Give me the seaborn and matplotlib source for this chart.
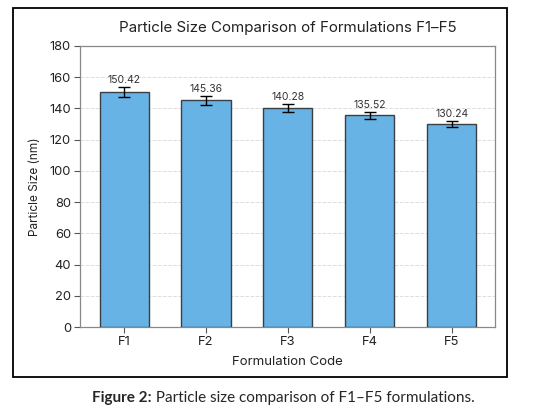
import numpy as np
import pandas as pd
import matplotlib
matplotlib.use("Agg")
import matplotlib.pyplot as plt
import seaborn as sns
from matplotlib.patches import Rectangle

# dati
codes = ["F1", "F2", "F3", "F4", "F5"]
sizes = [150.42, 145.36, 140.28, 135.52, 130.24]
errors = [3.2, 2.9, 2.6, 2.2, 1.9]
y_ticks = [0, 20, 40, 60, 80, 100, 120, 140, 160, 180]

df = pd.DataFrame({"code": codes, "size": sizes, "err": errors})

sns.set_style("white")
plt.rcParams["font.family"] = ["Inter", "DejaVu Sans"]

W, H = 536, 416
fig = plt.figure(figsize=(W / 100, H / 100), dpi=100)

# cornice nera attorno alla figura
fig.patches.append(Rectangle((13 / W, 1 - 377 / H), (507 - 13) / W, (377 - 8) / H,
                             transform=fig.transFigure, fill=False,
                             edgecolor="black", linewidth=1.3))

ax = fig.add_axes([80 / W, 1 - 327 / H, (495 - 80) / W, (327 - 46) / H])

sns.barplot(data=df, x="code", y="size", color="#67b3e6", edgecolor="#3a3f44",
            linewidth=1.0, width=0.6, saturation=1, ax=ax, zorder=3)
ax.errorbar(np.arange(len(codes)), sizes, yerr=errors, fmt="none",
            ecolor="black", elinewidth=1.0, capsize=4.5, capthick=1.0, zorder=4)

for i, v in enumerate(sizes):
    ax.text(i, v + errors[i] + 1.3, f"{v:.2f}", ha="center", va="bottom",
            fontsize=7.5, color="#333333")

ax.set_ylim(0, 180)
ax.set_yticks(y_ticks)
ax.set_xlim(-0.54, 4.53)
ax.yaxis.grid(True, linestyle="--", color="#dddddd", linewidth=0.7, zorder=0)
ax.set_axisbelow(True)
for s in ax.spines.values():
    s.set_color("#888888")
    s.set_linewidth(0.9)
ax.tick_params(axis="both", labelsize=9.3, colors="#555555", length=4,
               width=0.8, direction="out", left=True, bottom=True, pad=2.5)
ax.tick_params(axis="both", labelcolor="#222222")

fig.text((80 + 495) / 2 / W, 1 - 28 / H,
         "Particle Size Comparison of Formulations F1\u2013F5",
         ha="center", va="center", fontsize=10.9, color="#222222")
ax.set_xlabel("Formulation Code", fontsize=9.5, color="#222222", labelpad=6)
ax.set_ylabel("Particle Size (nm)", fontsize=8.5, color="#222222", labelpad=6)

# didascalia: parte in grassetto + parte normale, centrata
cap_font = ["Lato", "DejaVu Sans"]
cap_size = 11
t1 = fig.text(0, 1 - 398 / H, "Figure 2:", fontsize=cap_size, fontweight="bold",
              family=cap_font, va="center", ha="left")
t2 = fig.text(0, 1 - 398 / H, " Particle size comparison of F1\u2013F5 formulations.",
              fontsize=cap_size, family=cap_font, va="center", ha="left")
r = fig.canvas.get_renderer()
w1 = t1.get_window_extent(r).width
w2 = t2.get_window_extent(r).width
x0 = (97 + 470) / 2 - (w1 + w2) / 2
t1.set_x(x0 / W)
t2.set_x((x0 + w1) / W)

fig.savefig("out.png", dpi=100, facecolor="white")
